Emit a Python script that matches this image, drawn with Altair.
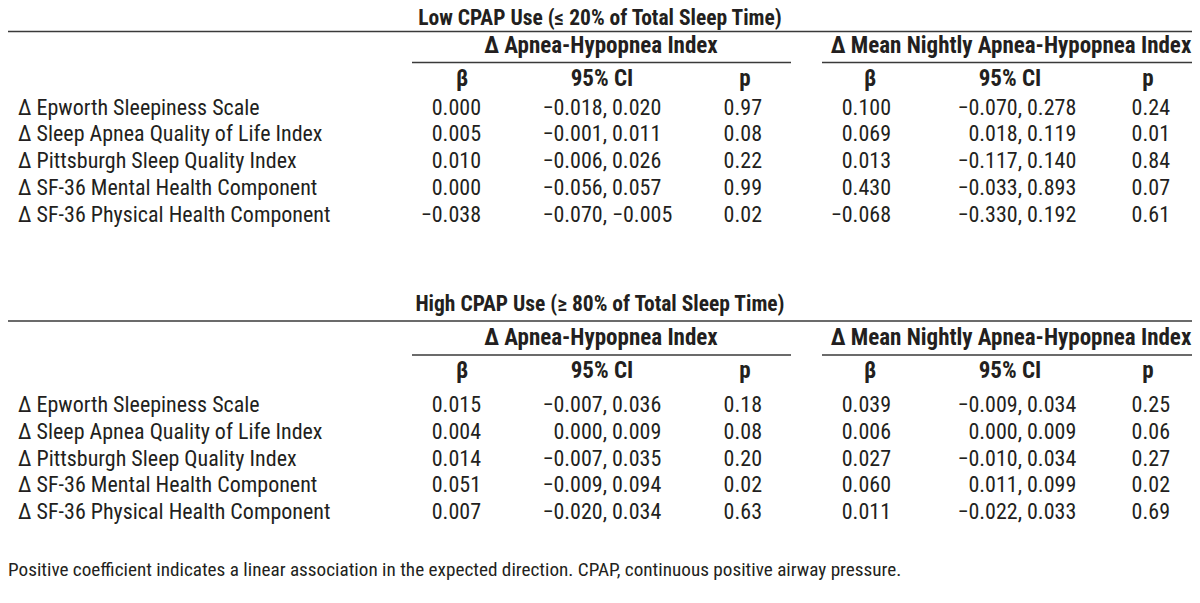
import altair as alt
import pandas as pd

# ---------------- data ----------------
block_titles = ["Low CPAP Use (≤ 20% of Total Sleep Time)",
                "High CPAP Use (≥ 80% of Total Sleep Time)"]
group_titles = ["Δ Apnea-Hypopnea Index", "Δ Mean Nightly Apnea-Hypopnea Index"]
col_headers = ["β", "95% CI", "p"]
outcomes = ["Δ Epworth Sleepiness Scale",
            "Δ Sleep Apnea Quality of Life Index",
            "Δ Pittsburgh Sleep Quality Index",
            "Δ SF-36 Mental Health Component",
            "Δ SF-36 Physical Health Component"]

low_ahi_beta = ["0.000", "0.005", "0.010", "0.000", "−0.038"]
low_ahi_lo = ["−0.018", "−0.001", "−0.006", "−0.056", "−0.070"]
low_ahi_hi = ["0.020", "0.011", "0.026", "0.057", "−0.005"]
low_ahi_p = ["0.97", "0.08", "0.22", "0.99", "0.02"]
low_mn_beta = ["0.100", "0.069", "0.013", "0.430", "−0.068"]
low_mn_lo = ["−0.070", "0.018", "−0.117", "−0.033", "−0.330"]
low_mn_hi = ["0.278", "0.119", "0.140", "0.893", "0.192"]
low_mn_p = ["0.24", "0.01", "0.84", "0.07", "0.61"]

high_ahi_beta = ["0.015", "0.004", "0.014", "0.051", "0.007"]
high_ahi_lo = ["−0.007", "0.000", "−0.007", "−0.009", "−0.020"]
high_ahi_hi = ["0.036", "0.009", "0.035", "0.094", "0.034"]
high_ahi_p = ["0.18", "0.08", "0.20", "0.02", "0.63"]
high_mn_beta = ["0.039", "0.006", "0.027", "0.060", "0.011"]
high_mn_lo = ["−0.009", "0.000", "−0.010", "0.011", "−0.022"]
high_mn_hi = ["0.034", "0.009", "0.034", "0.099", "0.033"]
high_mn_p = ["0.25", "0.06", "0.27", "0.02", "0.69"]

footnote = ("Positive coefficient indicates a linear association in the expected "
            "direction. CPAP, continuous positive airway pressure.")

# ---------------- layout (page pixels) ----------------
L = dict(
    label_x=18, title_x=600,
    group_cx=[601, 1011], group_x0=[412, 822], group_x1=[791, 1200],
    beta_r=[481, 891], comma=[604, 1019], p_r=[762, 1170],
    head_cx=[[462, 602, 745], [870, 1010, 1148]],
    y_title=[19.2, 305], y_rule1=[31.5, 321], y_group=[46, 338], y_rule2=[62.5, 355],
    y_head=[79, 371], y_row0=[107.5, 405], row_step=26.75, y_foot=570,
)
SIZE_BODY, SIZE_BOLD, SIZE_TITLE, SIZE_FOOT = 22, 23, 21.5, 19.2

blocks = [
    [(low_ahi_beta, low_ahi_lo, low_ahi_hi, low_ahi_p),
     (low_mn_beta, low_mn_lo, low_mn_hi, low_mn_p)],
    [(high_ahi_beta, high_ahi_lo, high_ahi_hi, high_ahi_p),
     (high_mn_beta, high_mn_lo, high_mn_hi, high_mn_p)],
]

recs = []   # text, x, y, align, style
rules = []  # x, x2, y
for b, groups in enumerate(blocks):
    recs.append((block_titles[b], L["title_x"], L["y_title"][b], "center", "title"))
    rules.append((0, 1200, L["y_rule1"][b]))
    for g, (beta, lo, hi, p) in enumerate(groups):
        recs.append((group_titles[g], L["group_cx"][g], L["y_group"][b], "center", "bold"))
        rules.append((L["group_x0"][g], L["group_x1"][g], L["y_rule2"][b]))
        for h, name in enumerate(col_headers):
            recs.append((name, L["head_cx"][g][h], L["y_head"][b], "center", "bold"))
        for i in range(len(outcomes)):
            y = L["y_row0"][b] + i * L["row_step"]
            recs.append((beta[i], L["beta_r"][g], y, "right", "body"))
            recs.append((lo[i] + ",", L["comma"][g] + 3, y, "right", "body"))
            recs.append((hi[i], L["comma"][g] + 8, y, "left", "body"))
            recs.append((p[i], L["p_r"][g], y, "right", "body"))
    for i, name in enumerate(outcomes):
        recs.append((name, L["label_x"], L["y_row0"][b] + i * L["row_step"], "left", "body"))
recs.append((footnote, 8, L["y_foot"], "left", "foot"))

df = pd.DataFrame(recs, columns=["text", "x", "y", "align", "style"])
df_rules = pd.DataFrame(rules, columns=["x", "x2", "y"])

FONT = "Roboto Condensed"
STYLES = {"body": (SIZE_BODY, "normal"), "bold": (SIZE_BOLD, "bold"),
          "title": (SIZE_TITLE, "bold"), "foot": (SIZE_FOOT, "normal")}

# page is 1200x603 with an 8px margin: plot area covers page pixels 8..1192 / 8..595
xs = alt.Scale(domain=[8, 1192], nice=False, zero=False)
ys = alt.Scale(domain=[8, 595], nice=False, zero=False, reverse=True)
X = alt.X("x:Q", scale=xs, axis=None)
Y = alt.Y("y:Q", scale=ys, axis=None)

layers = []
for align in ["left", "center", "right"]:
    for style, (size, weight) in STYLES.items():
        sub = df[(df["align"] == align) & (df["style"] == style)]
        if len(sub) == 0:
            continue
        layers.append(
            alt.Chart(sub).mark_text(
                align=align, baseline="middle", font=FONT, fontSize=size,
                fontWeight=weight, color="#231f20",
            ).encode(x=X, y=Y, text="text:N")
        )

rule_layer = alt.Chart(df_rules).mark_rule(color="#3a3a3a", strokeWidth=1.6).encode(
    x=X, x2="x2:Q", y=Y)

chart = alt.layer(rule_layer, *layers).properties(
    width=1184, height=587, padding=0, autosize=alt.AutoSizeParams(type="none"),
    background="white",
).configure_view(stroke=None)

chart.save("out.html", embed_options={"renderer": "svg", "actions": False})
